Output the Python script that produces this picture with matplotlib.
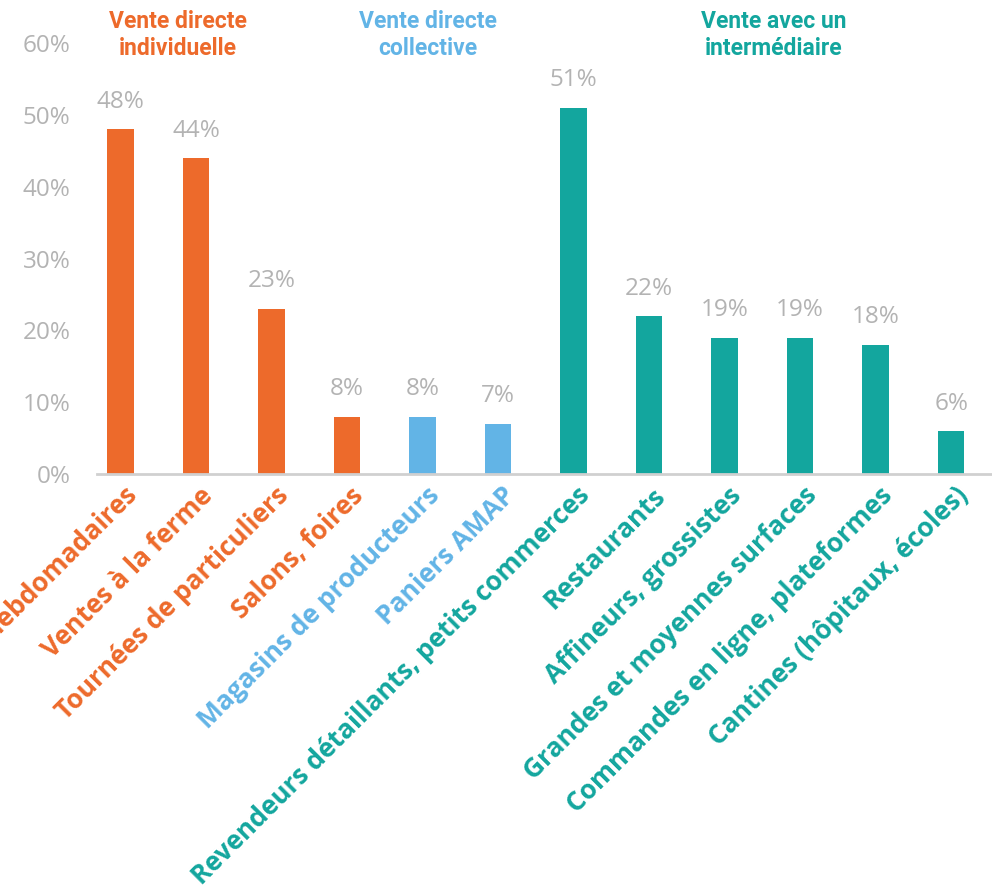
import matplotlib.pyplot as plt
import numpy as np

# Data
categories = ['Marchés hebdomadaires', 'Ventes à la ferme', 'Tournées de particuliers',
              'Salons, foires', 'Magasins de producteurs', 'Paniers AMAP',
              'Revendeurs détaillants, petits commerces', 'Restaurants',
              'Affineurs, grossistes', 'Grandes et moyennes surfaces',
              'Commandes en ligne, plateformes', 'Cantines (hôpitaux, écoles)']
values = [48, 44, 23, 8, 8, 7, 51, 22, 19, 19, 18, 6]
groups = ['ind', 'ind', 'ind', 'ind', 'col', 'col', 'int', 'int', 'int', 'int', 'int', 'int']

group_titles = {'ind': 'Vente directe\nindividuelle',
                'col': 'Vente directe\ncollective',
                'int': 'Vente avec un\nintermédiaire'}
colors = {'ind': '#ED6A2B', 'col': '#62B4E6', 'int': '#13A69E'}
grey = '#B3B3B3'

W, H = 992, 889
fig = plt.figure(figsize=(W / 100, H / 100), dpi=100)
ax = fig.add_axes([97 / W, 1 - 474 / H, (W - 97) / W, (474 - 43) / H])

x = np.arange(len(categories))
bar_colors = [colors[g] for g in groups]
ax.bar(x, values, width=0.35, color=bar_colors, zorder=2)

ax.set_xlim(-0.311, 11.54)
ax.set_ylim(0, 60)

# Value labels
for xi, v in zip(x, values):
    ax.text(xi, v + 3.8, f'{v}%', ha='center', va='center', fontsize=17.5,
            color=grey, family='Open Sans')

# Y axis
ax.set_yticks(np.arange(0, 61, 10))
ax.set_yticklabels([f'{t}%' for t in range(0, 61, 10)], fontsize=17.5,
                   color=grey, family='Open Sans')
ax.tick_params(axis='y', length=0, pad=19)

# X axis labels, rotated and ending under each bar
ax.set_xticks(x)
ax.set_xticklabels([])
ax.tick_params(axis='x', length=0)
for xi, lab, g in zip(x, categories, groups):
    ax.annotate(lab, xy=(xi, 0), xytext=(3, -8), textcoords='offset pixels',
                ha='right', va='top', rotation=45, rotation_mode='anchor',
                fontsize=19, fontweight='bold', color=colors[g],
                family='Open Sans', annotation_clip=False)

for side in ['top', 'right', 'left']:
    ax.spines[side].set_visible(False)
ax.spines['bottom'].set_color('#D0D0D0')
ax.spines['bottom'].set_linewidth(2)

# Group titles
title_pos = {'ind': 178, 'col': 428, 'int': 774}
for g, px in title_pos.items():
    fig.text(px / W, 1 - 35 / H, group_titles[g], ha='center', va='center',
             fontsize=16.5, fontweight='bold', color=colors[g], family='Roboto',
             linespacing=1.2)

fig.savefig('out.png', dpi=100)
